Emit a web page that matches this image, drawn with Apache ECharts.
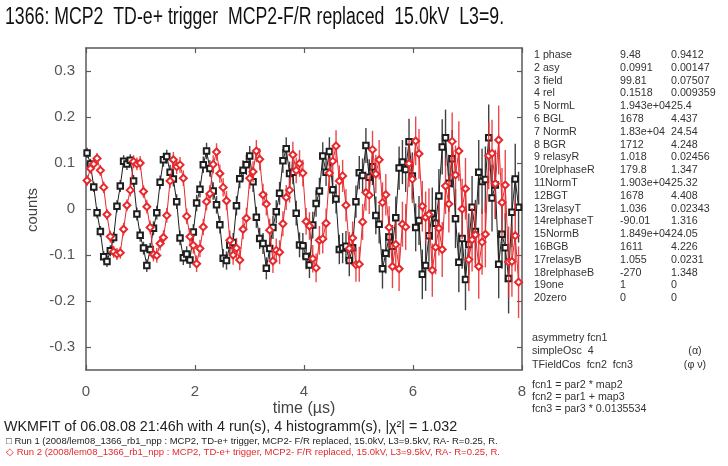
<!DOCTYPE html>
<html><head><meta charset="utf-8">
<script src="https://cdn.jsdelivr.net/npm/echarts@6/dist/echarts.min.js"></script>
<style>html,body{margin:0;padding:0;background:#fff}#c{width:728px;height:466px}</style>
</head><body><div id="c"></div>
<script>
// ---------- data ----------
const time = [0.020,0.081,0.142,0.203,0.264,0.325,0.385,0.446,0.507,0.568,0.629,0.690,
0.751,0.812,0.873,0.934,0.994,1.055,1.116,1.177,1.238,1.299,1.360,1.421,
1.482,1.543,1.603,1.664,1.725,1.786,1.847,1.908,1.969,2.030,2.091,2.152,
2.212,2.273,2.334,2.395,2.456,2.517,2.578,2.639,2.700,2.761,2.821,2.882,
2.943,3.004,3.065,3.126,3.187,3.248,3.309,3.370,3.430,3.491,3.552,3.613,
3.674,3.735,3.796,3.857,3.918,3.979,4.039,4.100,4.161,4.222,4.283,4.344,
4.405,4.466,4.527,4.588,4.648,4.709,4.770,4.831,4.892,4.953,5.014,5.075,
5.136,5.197,5.257,5.318,5.379,5.440,5.501,5.562,5.623,5.684,5.745,5.806,
5.866,5.927,5.988,6.049,6.110,6.171,6.232,6.293,6.354,6.415,6.475,6.536,
6.597,6.658,6.719,6.780,6.841,6.902,6.963,7.024,7.084,7.145,7.206,7.267,
7.328,7.389,7.450,7.511,7.572,7.633,7.693,7.754,7.815,7.876,7.937];

const run1Asym = [0.122,0.098,0.048,-0.008,-0.049,-0.104,-0.114,-0.091,-0.062,0.006,0.050,0.104,
0.098,0.106,0.061,-0.011,-0.057,-0.085,-0.123,-0.088,-0.042,-0.008,0.058,0.107,
0.114,0.080,0.065,0.016,-0.063,-0.106,-0.098,-0.111,-0.050,0.013,0.043,0.096,
0.126,0.088,0.039,0.009,-0.034,-0.107,-0.112,-0.078,-0.073,0.007,0.066,0.084,
0.096,0.115,0.059,-0.018,-0.064,-0.075,-0.129,-0.086,-0.040,-0.006,0.034,0.105,
0.131,0.077,0.080,-0.009,-0.078,-0.080,-0.103,-0.122,-0.035,0.012,0.039,0.115,
0.080,0.125,0.042,0.022,-0.088,-0.085,-0.081,-0.112,-0.084,0.016,0.079,0.073,
0.138,0.069,0.092,-0.014,-0.033,-0.130,-0.096,-0.061,-0.081,-0.019,0.089,0.102,
0.086,0.146,0.072,-0.040,-0.025,-0.142,-0.123,-0.058,-0.010,-0.031,0.028,0.135,
0.155,0.056,0.109,-0.021,-0.116,-0.064,-0.153,-0.077,0.004,-0.049,0.080,0.060,
0.064,0.155,0.024,0.052,-0.120,-0.055,-0.084,-0.151,-0.007,0.065,0.004];

const run1Err = [0.011,0.011,0.011,0.012,0.012,0.012,0.012,0.012,0.012,0.013,
0.013,0.013,0.013,0.013,0.013,0.014,0.014,0.014,0.014,0.014,
0.015,0.015,0.015,0.015,0.015,0.016,0.016,0.016,0.016,0.016,
0.017,0.017,0.017,0.018,0.018,0.018,0.018,0.018,0.019,0.019,
0.019,0.020,0.020,0.020,0.021,0.021,0.021,0.022,0.022,0.022,
0.022,0.023,0.023,0.023,0.024,0.024,0.025,0.025,0.025,0.026,
0.025,0.026,0.026,0.027,0.027,0.028,0.028,0.028,0.029,0.029,
0.029,0.030,0.030,0.031,0.031,0.032,0.032,0.033,0.033,0.034,
0.034,0.035,0.036,0.037,0.038,0.039,0.040,0.041,0.042,0.043,
0.044,0.045,0.046,0.046,0.047,0.048,0.049,0.050,0.051,0.052,
0.053,0.054,0.055,0.056,0.057,0.058,0.059,0.060,0.061,0.062,
0.063,0.064,0.065,0.066,0.067,0.067,0.068,0.069,0.070,0.071,
0.072,0.072,0.073,0.074,0.074,0.075,0.075,0.076,0.076,0.077,
0.077];

const run2Asym = [0.062,0.088,0.098,0.110,0.084,0.047,-0.012,-0.060,-0.093,-0.098,-0.095,-0.044,
0.008,0.041,0.103,0.098,0.100,0.038,0.005,-0.040,-0.099,-0.101,-0.075,-0.062,
-0.014,0.061,0.107,0.092,0.096,0.067,-0.016,-0.060,-0.079,-0.119,-0.086,-0.039,
0.016,0.033,0.097,0.124,0.077,0.047,0.018,-0.068,-0.100,-0.085,-0.111,-0.044,
-0.020,0.067,0.081,0.126,0.108,0.031,0.011,-0.046,-0.113,-0.090,-0.094,-0.032,
0.025,0.041,0.118,0.084,0.099,0.078,-0.027,-0.037,-0.108,-0.128,-0.068,-0.065,
-0.031,0.078,0.104,0.137,0.061,0.072,0.008,-0.086,-0.063,-0.121,-0.120,-0.028,
0.036,0.030,0.129,0.076,0.107,0.014,0.031,-0.040,-0.125,-0.077,-0.130,-0.033,
-0.039,0.099,0.065,0.148,0.120,0.006,-0.018,-0.012,-0.133,-0.083,-0.042,-0.088,
0.050,0.011,0.147,0.074,0.126,0.000,0.044,-0.110,-0.067,-0.056,-0.125,-0.072,
-0.055,0.116,0.121,0.055,0.150,0.014,0.052,-0.115,-0.114,-0.058,-0.159];

const run2Err = [0.012,0.011,0.012,0.012,0.012,0.013,0.012,0.013,0.013,0.013,
0.013,0.014,0.013,0.014,0.014,0.014,0.015,0.014,0.015,0.015,
0.015,0.016,0.015,0.016,0.016,0.016,0.017,0.016,0.017,0.017,
0.017,0.018,0.018,0.018,0.019,0.018,0.019,0.019,0.020,0.019,
0.020,0.020,0.021,0.021,0.021,0.022,0.022,0.022,0.023,0.023,
0.023,0.024,0.024,0.024,0.025,0.025,0.026,0.026,0.026,0.027,
0.027,0.027,0.028,0.028,0.029,0.029,0.029,0.030,0.030,0.031,
0.031,0.032,0.032,0.033,0.033,0.034,0.034,0.035,0.035,0.036,
0.036,0.037,0.038,0.039,0.040,0.041,0.041,0.042,0.043,0.044,
0.045,0.046,0.047,0.048,0.048,0.049,0.050,0.051,0.052,0.053,
0.054,0.055,0.056,0.057,0.058,0.059,0.059,0.060,0.061,0.062,
0.063,0.064,0.065,0.066,0.067,0.068,0.069,0.069,0.070,0.071,
0.072,0.073,0.073,0.074,0.075,0.075,0.076,0.077,0.077,0.078,
0.078];

const xTicks = [0, 2, 4, 6, 8];
const yTicks = [-0.3, -0.2, -0.1, 0, 0.1, 0.2, 0.3];

const paramNames = ['1 phase','2 asy','3 field','4 rel','5 NormL','6 BGL','7 NormR','8 BGR','9 relasyR','10relphaseR',
  '11NormT','12BGT','13relasyT','14relphaseT','15NormB','16BGB','17relasyB','18relphaseB','19one','20zero'];
const paramValues = ['9.48','0.0991','99.81','0.1518','1.943e+04','1678','1.83e+04','1712','1.018','179.8',
  '1.903e+04','1678','1.036','-90.01','1.849e+04','1611','1.055','-270','1','0'];
const paramErrors = ['0.9412','0.00147','0.07507','0.009359','25.4','4.437','24.54','4.248','0.02456','1.347',
  '25.32','4.408','0.02343','1.316','24.05','4.226','0.0231','1.348','0','0'];

const titleText = '1366: MCP2  TD-e+ trigger  MCP2-F/R replaced  15.0kV  L3=9.';
const fitLine = 'WKMFIT of 06.08.08 21:46h with 4 run(s), 4 histogramm(s), |\u03C7\u00B2| = 1.032';
const run1Label = '\u25A1 Run 1 (2008/lem08_1366_rb1_npp : MCP2, TD-e+ trigger, MCP2- F/R replaced, 15.0kV, L3=9.5kV, RA- R=0.25, R.';
const run2Label = '\u25C7 Run 2 (2008/lem08_1366_rb1_npp : MCP2, TD-e+ trigger, MCP2- F/R replaced, 15.0kV, L3=9.5kV, RA- R=0.25, R.';
const theoryRows = [['asymmetry fcn1',''],['simpleOsc  4','(\u03B1)'],['TFieldCos  fcn2  fcn3','(\u03C6 \u03BD)']];
const fcnRows = ['fcn1 = par2 * map2','fcn2 = par1 + map3','fcn3 = par3 * 0.0135534'];

// ---------- chart ----------
const FONT = '"Liberation Sans", Arial, sans-serif';
const BLACK = '#1e1e1e', RED = '#e8282c', AX = '#5a5a5a';

function errSeries(vals, errs, color, z) {
  return {
    type: 'custom', z: z, silent: true, clip: true,
    data: time.map((t, i) => [t, vals[i] - errs[i], vals[i] + errs[i]]),
    encode: { x: 0, y: [1, 2] },
    renderItem: function (params, api) {
      const p1 = api.coord([api.value(0), api.value(1)]);
      const p2 = api.coord([api.value(0), api.value(2)]);
      return { type: 'line', shape: { x1: p1[0], y1: p1[1], x2: p2[0], y2: p2[1] },
        style: { stroke: color, lineWidth: 1.4, opacity: 0.85 } };
    }
  };
}
function dataSeries(vals, color, symbol, size, z) {
  return {
    type: 'line', z: z, silent: true, animation: false,
    data: time.map((t, i) => [t, vals[i]]),
    symbol: symbol, symbolSize: size, showSymbol: true,
    lineStyle: { color: color, width: 1 },
    itemStyle: { color: color, borderColor: color, borderWidth: 1 }
  };
}

const graphics = [];
function txt(text, x, y, size, color, opts) {
  opts = opts || {};
  graphics.push({
    type: 'text', x: x, y: y, scaleX: opts.sx || 1, rotation: opts.rot || 0, silent: true,
    style: { text: text, fontSize: size, fontFamily: FONT, fill: color,
      textAlign: opts.align || 'left', textVerticalAlign: 'middle' }
  });
}
txt(titleText, 5, 18, 23, '#111', { sx: 0.77 });
txt('counts', 33, 210, 15, '#444', { rot: Math.PI / 2, align: 'center' });
txt('time (\u00B5s)', 304, 409, 16, '#444', { align: 'center' });

const rowY0 = 55, rowDY = 12.8;
paramNames.forEach((n, i) => {
  const y = rowY0 + i * rowDY;
  txt(n, 534, y, 10.7, '#333');
  txt(paramValues[i], 620, y, 10.7, '#333');
  txt(paramErrors[i], 671, y, 10.7, '#333');
});
const thY = [338, 351.5, 365];
theoryRows.forEach((r, i) => {
  txt(r[0], 532, thY[i], 10.7, '#333');
  if (r[1]) txt(r[1], 695, thY[i], 10.7, '#333', { align: 'center' });
});
fcnRows.forEach((r, i) => txt(r, 532, 385 + i * 12, 10.7, '#333'));
txt(fitLine, 4, 427, 14.3, '#222');
txt(run1Label, 6, 441, 9.5, '#222');
txt(run2Label, 6, 452, 9.5, RED);

const axisCommon = {
  axisLine: { show: true, onZero: false, lineStyle: { color: AX, width: 1.5 } },
  axisTick: { show: true, inside: true, length: 5, lineStyle: { color: AX, width: 1.2 } },
  splitLine: { show: false }
};

const option = {
  animation: false,
  backgroundColor: '#fff',
  grid: { left: 86, right: 206, top: 48, bottom: 96, containLabel: false },
  xAxis: [
    Object.assign({ type: 'value', min: 0, max: 8, interval: 2, position: 'bottom',
      axisLabel: { show: true, fontSize: 15, color: '#555', margin: 14, fontFamily: FONT,
        customValues: xTicks } }, axisCommon),
    Object.assign({ type: 'value', min: 0, max: 8, interval: 2, position: 'top',
      axisLabel: { show: false } }, axisCommon)
  ],
  yAxis: [
    Object.assign({}, axisCommon, { type: 'value', min: -0.35, max: 0.35, position: 'left',
      axisTick: Object.assign({}, axisCommon.axisTick, { customValues: yTicks }),
      axisLabel: { show: true, fontSize: 15, color: '#555', margin: 11, fontFamily: FONT,
        customValues: yTicks } }),
    Object.assign({}, axisCommon, { type: 'value', min: -0.35, max: 0.35, position: 'right',
      axisTick: Object.assign({}, axisCommon.axisTick, { customValues: yTicks }),
      axisLabel: { show: false } })
  ],
  series: [
    errSeries(run1Asym, run1Err, BLACK, 2),
    dataSeries(run1Asym, BLACK, 'emptyRect', 5.5, 3),
    errSeries(run2Asym, run2Err, RED, 4),
    dataSeries(run2Asym, RED, 'emptyDiamond', 7, 5)
  ],
  graphic: { elements: graphics }
};

const chart = echarts.init(document.getElementById('c'), null, { renderer: 'canvas' });
chart.setOption(option);
</script>
</body></html>
